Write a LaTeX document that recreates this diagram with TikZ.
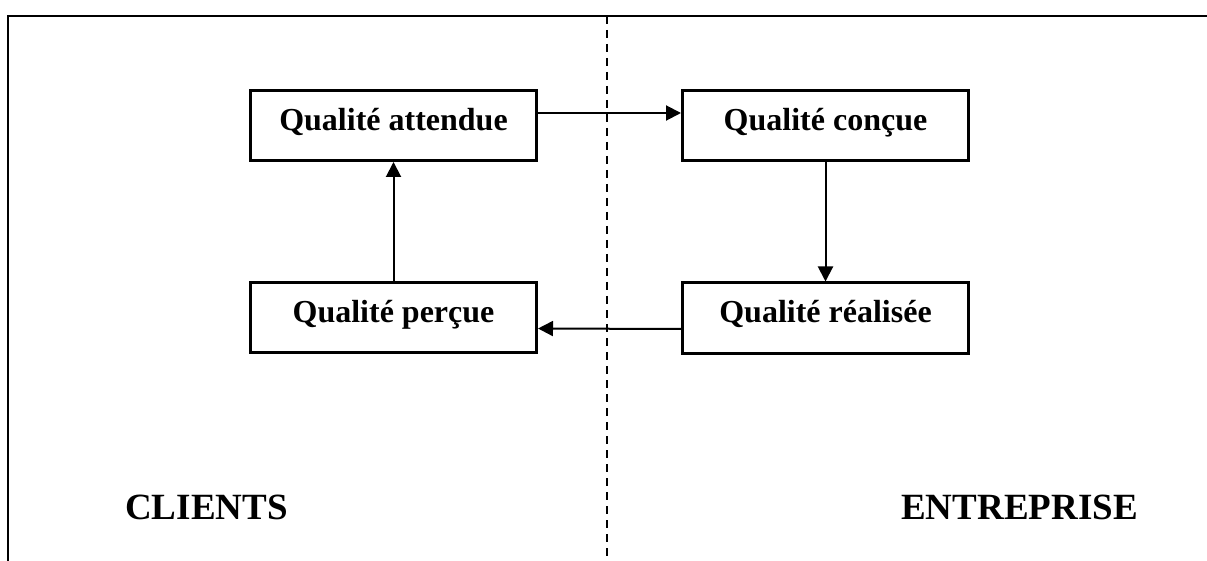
\documentclass[tikz,border=0pt]{standalone}
\usepackage{fontspec}
\setmainfont{Liberation Serif}
\usetikzlibrary{arrows.meta}

\begin{document}
\begin{tikzpicture}[x=1pt,y=-1pt,
  qbox/.style={draw,line width=3pt,minimum width=286pt,minimum height=70pt,inner sep=0pt,
    text height=21pt,text depth=11pt,font=\fontsize{32}{38}\selectfont\bfseries},
  side/.style={anchor=base,inner sep=0pt,font=\fontsize{37}{44}\selectfont\bfseries},
  flow/.style={line width=2pt,-{Triangle[length=15pt,width=15pt]}}]
\useasboundingbox (0,0) rectangle (1207,561);
\draw[line width=2pt] (8,561) -- (8,16) -- (1207,16);
\draw[line width=2pt,dash pattern=on 8pt off 6pt] (606.5,16) -- (606.5,561);

\node[qbox] (attendue) at (393.5,125.5) {Qualité attendue};
\node[qbox] (percue) at (393.5,317.5) {Qualité perçue};
\node[qbox] (concue) at (825.5,125.5) {Qualité conçue};
\node[qbox] (realisee) at (825.5,318) {Qualité réalisée};

\draw[flow] ([yshift=12.5pt]attendue.east) -- ([yshift=12.5pt]concue.west);
\draw[flow] (concue) -- (realisee);
\draw[flow] ([yshift=-11pt]realisee.west) -- ([yshift=-11pt]percue.east);
\draw[flow] (percue) -- (attendue);

\node[side] (clients) at (206.5,519) {CLIENTS};
\node[side] (entreprise) at (1019.5,519) {ENTREPRISE};
\end{tikzpicture}
\end{document}
